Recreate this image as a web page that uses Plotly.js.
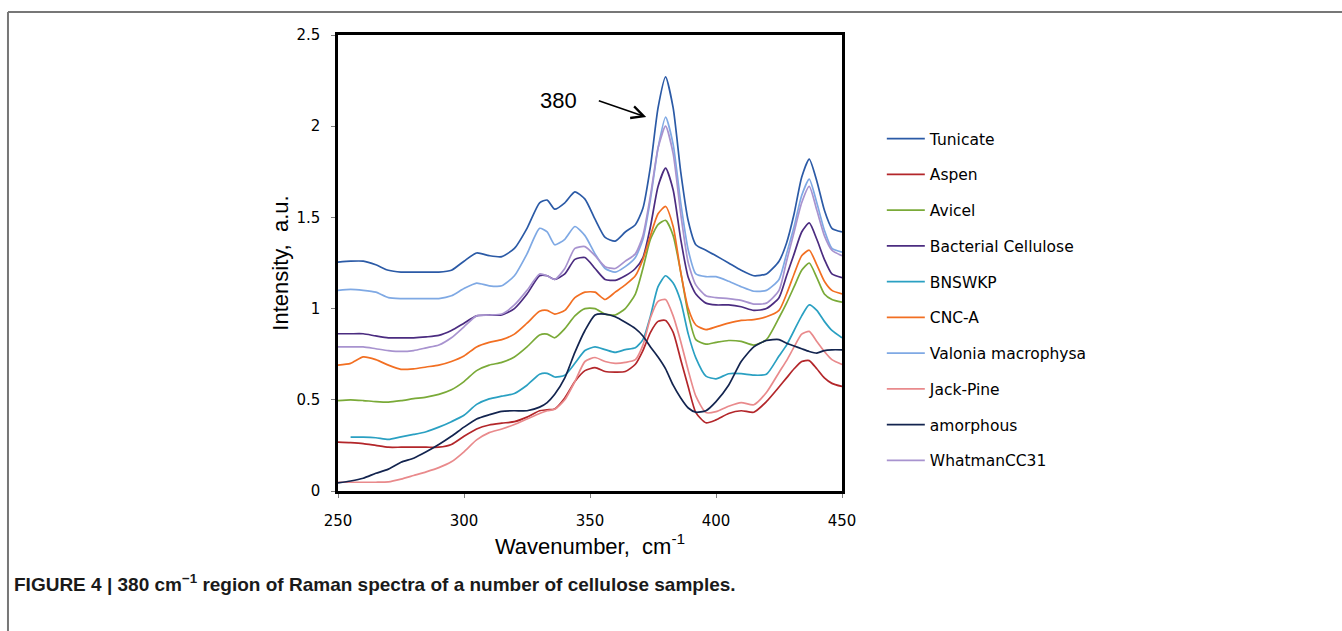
<!DOCTYPE html>
<html>
<head>
<meta charset="utf-8">
<script src="https://cdn.plot.ly/plotly-3.0.1.min.js"></script>
<style>
  html, body { margin: 0; padding: 0; background: #ffffff; }
  #chart { width: 1342px; height: 631px; }
</style>
</head>
<body>
<div id="chart"></div>
<script>
// Wavenumber (cm-1) sample positions
const wavenumber = [250,255,260,265,270,275,280,285,290,295,300,305,310,315,320,325,330,333,336,340,344,348,352,356,360,364,368,371,374,377,380,383,386,389,392,396,400,405,410,415,420,425,428,431,434,437,440,443,446,450];

// Series names (legend order)
const seriesNames = ["Tunicate","Aspen","Avicel","Bacterial Cellulose","BNSWKP","CNC-A","Valonia macrophysa","Jack-Pine","amorphous","WhatmanCC31"];

// Intensities (a.u.)
const tunicate = [1.255,1.26,1.26,1.24,1.21,1.20,1.20,1.20,1.20,1.21,1.26,1.305,1.29,1.285,1.33,1.44,1.58,1.595,1.545,1.58,1.64,1.60,1.49,1.39,1.37,1.42,1.46,1.55,1.78,2.10,2.27,2.10,1.75,1.48,1.35,1.32,1.29,1.25,1.21,1.18,1.19,1.26,1.36,1.52,1.72,1.82,1.70,1.54,1.44,1.42];
const aspen = [0.268,0.265,0.26,0.25,0.24,0.24,0.24,0.24,0.24,0.255,0.30,0.34,0.362,0.372,0.38,0.405,0.44,0.445,0.45,0.51,0.60,0.66,0.676,0.655,0.652,0.655,0.695,0.77,0.87,0.93,0.935,0.87,0.72,0.57,0.43,0.374,0.39,0.425,0.44,0.432,0.49,0.57,0.62,0.67,0.71,0.715,0.67,0.62,0.59,0.573];
const avicel = [0.496,0.50,0.496,0.49,0.487,0.495,0.506,0.515,0.53,0.555,0.60,0.66,0.69,0.705,0.735,0.79,0.855,0.86,0.84,0.89,0.96,1.00,1.00,0.97,0.965,1.00,1.08,1.22,1.38,1.46,1.484,1.40,1.20,0.97,0.83,0.805,0.815,0.825,0.82,0.80,0.83,0.95,1.03,1.12,1.21,1.25,1.17,1.08,1.05,1.035];
const bacterial = [0.862,0.862,0.862,0.85,0.84,0.84,0.84,0.845,0.853,0.88,0.92,0.96,0.965,0.965,1.00,1.08,1.18,1.18,1.16,1.19,1.27,1.28,1.22,1.16,1.155,1.18,1.22,1.28,1.45,1.67,1.77,1.65,1.38,1.17,1.08,1.03,1.02,1.02,1.01,0.99,1.00,1.06,1.18,1.30,1.42,1.47,1.38,1.27,1.19,1.17];
const bnswkp = [null,0.295,0.295,0.292,0.283,0.297,0.31,0.325,0.35,0.38,0.415,0.475,0.505,0.52,0.535,0.58,0.64,0.645,0.625,0.635,0.70,0.77,0.79,0.775,0.76,0.775,0.785,0.83,0.96,1.12,1.18,1.14,1.04,0.86,0.73,0.63,0.615,0.643,0.643,0.635,0.64,0.74,0.80,0.88,0.96,1.02,0.99,0.93,0.88,0.84];
const cncA = [0.69,0.70,0.735,0.72,0.69,0.667,0.67,0.68,0.69,0.71,0.74,0.79,0.815,0.83,0.86,0.92,0.985,0.99,0.97,0.99,1.06,1.09,1.09,1.05,1.09,1.13,1.18,1.27,1.40,1.52,1.56,1.45,1.20,1.00,0.91,0.885,0.90,0.92,0.935,0.94,0.955,0.99,1.08,1.19,1.29,1.32,1.24,1.15,1.10,1.08];
const valonia = [1.10,1.105,1.10,1.09,1.06,1.055,1.055,1.055,1.055,1.07,1.11,1.14,1.125,1.125,1.18,1.30,1.44,1.42,1.35,1.38,1.45,1.40,1.30,1.22,1.20,1.23,1.28,1.38,1.60,1.88,2.05,1.90,1.58,1.32,1.19,1.175,1.175,1.15,1.12,1.095,1.10,1.16,1.30,1.45,1.62,1.71,1.58,1.43,1.33,1.31];
const jackPine = [0.048,0.048,0.048,0.048,0.05,0.065,0.085,0.105,0.128,0.16,0.215,0.28,0.32,0.34,0.365,0.395,0.425,0.44,0.448,0.50,0.60,0.71,0.732,0.71,0.70,0.705,0.72,0.80,0.95,1.04,1.05,0.96,0.82,0.66,0.52,0.43,0.435,0.465,0.485,0.473,0.54,0.65,0.715,0.79,0.86,0.875,0.82,0.765,0.72,0.694];
const amorphous = [0.045,0.055,0.07,0.097,0.12,0.158,0.18,0.215,0.255,0.30,0.35,0.395,0.418,0.437,0.44,0.44,0.46,0.485,0.53,0.62,0.76,0.88,0.965,0.97,0.955,0.925,0.89,0.85,0.79,0.735,0.67,0.58,0.51,0.455,0.432,0.44,0.49,0.58,0.71,0.79,0.825,0.83,0.81,0.795,0.78,0.765,0.756,0.77,0.774,0.774];
const whatman = [0.79,0.79,0.79,0.78,0.77,0.765,0.77,0.785,0.80,0.84,0.90,0.96,0.965,0.97,1.02,1.10,1.19,1.18,1.16,1.22,1.33,1.34,1.29,1.23,1.22,1.26,1.30,1.40,1.62,1.88,2.00,1.85,1.52,1.25,1.13,1.07,1.06,1.055,1.045,1.025,1.03,1.10,1.26,1.42,1.58,1.67,1.54,1.40,1.32,1.29];

// Tick values
const xTicks = [250,300,350,400,450];
const yTicks = [0,0.5,1,1.5,2,2.5];

const seriesValues = [tunicate, aspen, avicel, bacterial, bnswkp, cncA, valonia, jackPine, amorphous, whatman];
const seriesColors = ["#2b5aa6","#b3262a","#7aaa38","#4b2c80","#2aa0c2","#f26f22","#7fa9e4","#e98a8c","#13244f","#a893cf"];

const traces = seriesNames.map((name, i) => ({
  type: "scatter",
  mode: "lines",
  name: name,
  legendgroup: "g" + i,
  x: wavenumber,
  y: seriesValues[i],
  line: { color: seriesColors[i], width: 1.7, shape: "spline", smoothing: 0.6 },
  connectgaps: false,
  hoverinfo: "x+y+name"
}));

const tickFont = { family: "DejaVu Sans, Verdana, sans-serif", size: 15, color: "#000000" };
const titleFont = { family: "Liberation Sans, Arial, sans-serif", size: 22, color: "#000000" };

const layout = {
  width: 1342,
  height: 631,
  margin: { l: 338, r: 500, t: 35, b: 140, pad: 0 },
  paper_bgcolor: "#ffffff",
  plot_bgcolor: "#ffffff",
  showlegend: true,
  legend: {
    x: 1.079, xanchor: "left",
    y: 0.809, yanchor: "top",
    traceorder: "grouped",
    tracegroupgap: 12.6,
    itemwidth: 38,
    font: { family: "DejaVu Sans, Verdana, sans-serif", size: 15.5, color: "#000000" },
    bgcolor: "rgba(0,0,0,0)",
    borderwidth: 0
  },
  xaxis: {
    range: [250, 450],
    tickvals: xTicks,
    ticks: "outside",
    ticklen: 4,
    tickcolor: "#808080",
    tickwidth: 1,
    showline: true,
    linecolor: "#000000",
    linewidth: 2.5,
    mirror: true,
    showgrid: false,
    zeroline: false,
    tickfont: tickFont,
    ticklabelstandoff: 10,
    title: { text: "Wavenumber,  cm<sup>-1</sup>", font: titleFont, standoff: 10 }
  },
  yaxis: {
    range: [0, 2.5],
    tickvals: yTicks,
    ticks: "outside",
    ticklen: 4,
    tickcolor: "#808080",
    tickwidth: 1,
    showline: true,
    linecolor: "#000000",
    linewidth: 2.5,
    mirror: true,
    showgrid: false,
    zeroline: false,
    tickfont: tickFont,
    ticklabelstandoff: 8,
    title: { text: "Intensity,  a.u.", font: titleFont, standoff: 2 }
  },
  annotations: [
    {
      xref: "x", yref: "y",
      x: 337.5, y: 2.14,
      text: "380",
      showarrow: false,
      font: { family: "Liberation Sans, Arial, sans-serif", size: 22, color: "#000000" }
    },
    {
      xref: "x", yref: "y", axref: "x", ayref: "y",
      x: 372.3, y: 2.05,
      ax: 352.9, ay: 2.142,
      text: "",
      showarrow: true,
      arrowhead: 5,
      arrowsize: 1.6,
      arrowwidth: 1.5,
      arrowcolor: "#000000"
    },
    {
      xref: "paper", yref: "paper",
      x: -0.6468, y: -0.2018,
      xanchor: "left", yanchor: "middle",
      text: "<b>FIGURE 4 | 380 cm<sup>−1</sup> region of Raman spectra of a number of cellulose samples.</b>",
      showarrow: false,
      font: { family: "Liberation Sans Narrow, Arial Narrow, Liberation Sans, sans-serif", size: 19, color: "#1a1a1a" }
    }
  ],
  shapes: [
    { type: "line", xref: "paper", yref: "paper", x0: -0.6548, x1: 2.0, y0: 1.0504, y1: 1.0504, line: { color: "#777777", width: 2 } },
    { type: "line", xref: "paper", yref: "paper", x0: -0.6548, x1: -0.6548, y0: 1.0504, y1: -0.31, line: { color: "#777777", width: 2 } }
  ]
};

Plotly.newPlot("chart", traces, layout, { displayModeBar: false, responsive: false });
</script>
</body>
</html>
